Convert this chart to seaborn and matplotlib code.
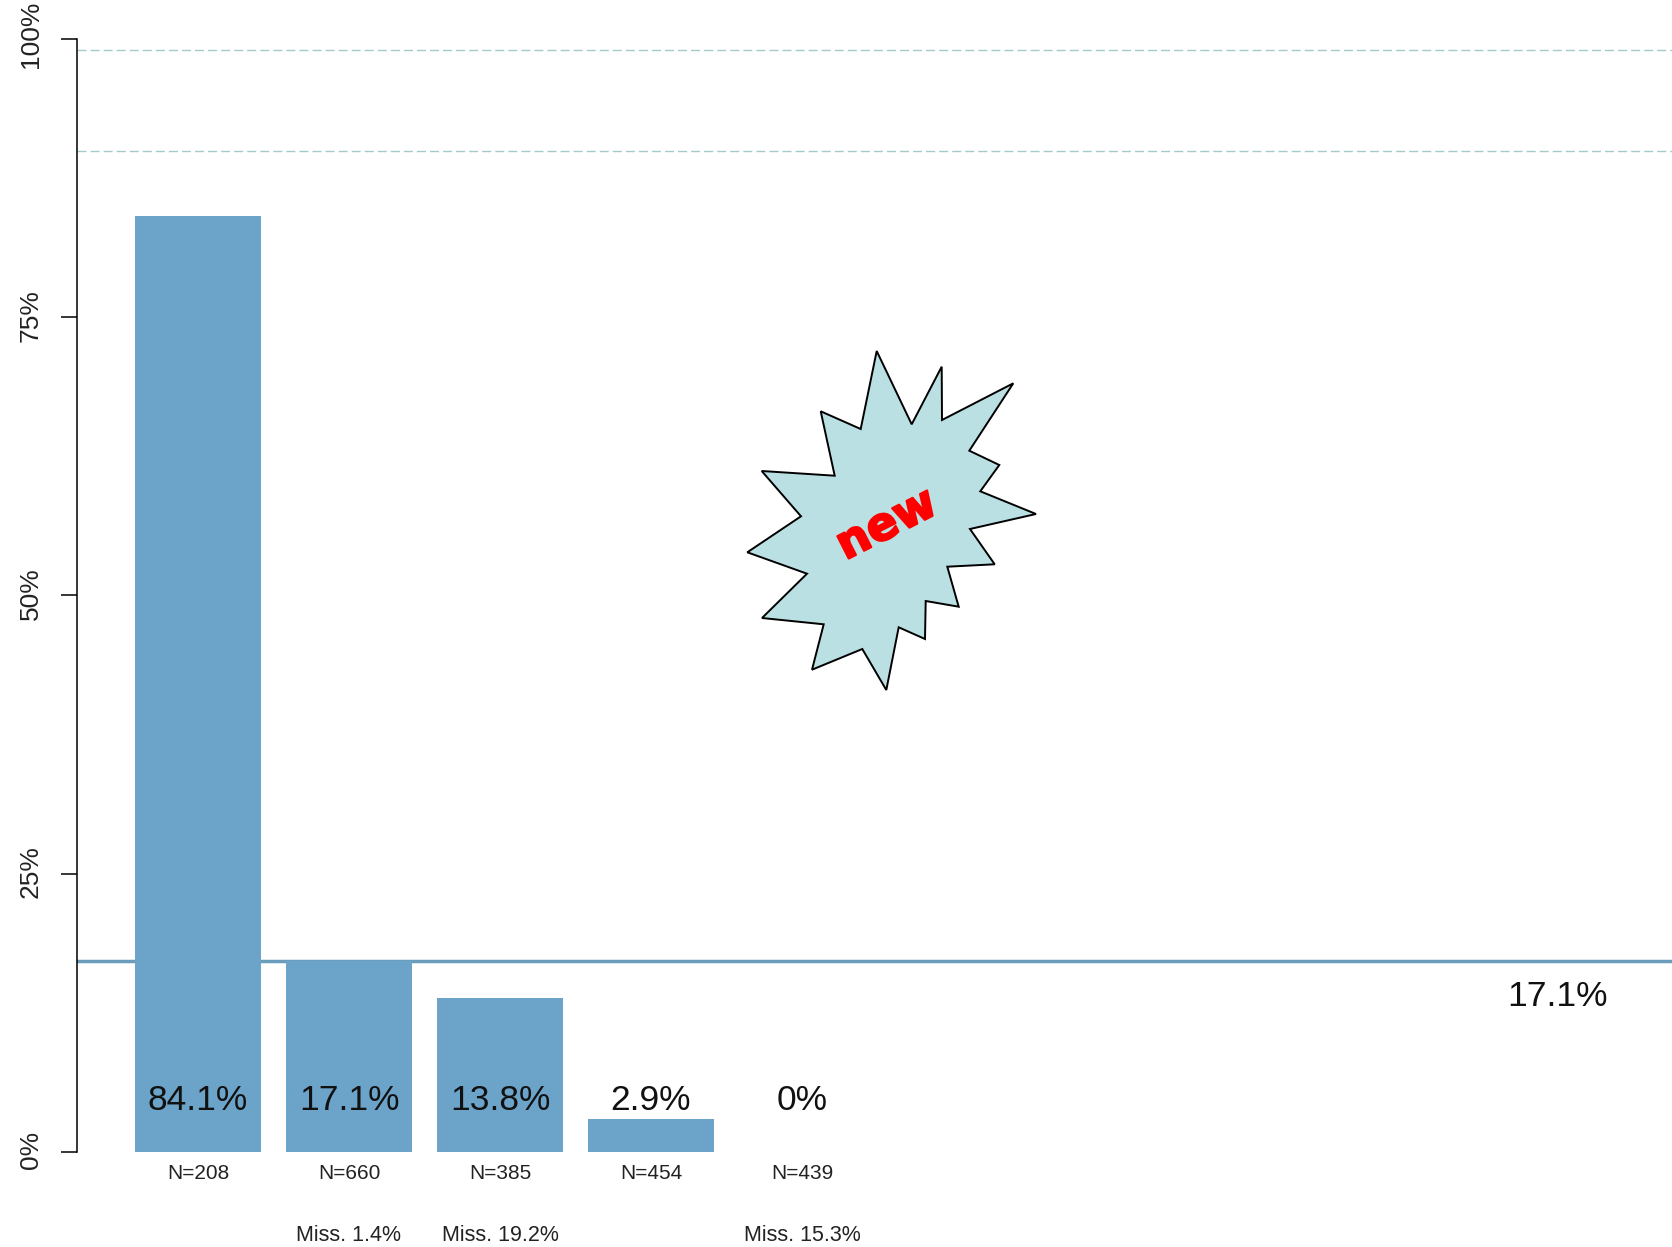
import matplotlib
matplotlib.use("Agg")
import matplotlib.pyplot as plt
import matplotlib.patheffects as pe
from matplotlib.patches import Polygon
from matplotlib.transforms import ScaledTranslation
import pandas as pd
import seaborn as sns

categories = ["A", "B", "C", "D", "E"]
values = [84.1, 17.1, 13.8, 2.9, 0]
value_labels = ["84.1%", "17.1%", "13.8%", "2.9%", "0%"]
n_labels = ["N=208", "N=660", "N=385", "N=454", "N=439"]
miss_labels = ["", "Miss. 1.4%", "Miss. 19.2%", "", "Miss. 15.3%"]
mean_value = 17.1
mean_label = "17.1%"
reference_lines = [99, 89.9]
y_ticks = [0, 25, 50, 75, 100]
y_tick_labels = ["0%", "25%", "50%", "75%", "100%"]

# outline of the decorative "new" burst, in pixels of the full figure
burst_x = [876.7, 911.7, 941.7, 942, 1013.3, 969.3, 999.3, 980.3, 1036, 970, 994.7, 947.3,
           958.7, 925.7, 925, 898.7, 886.3, 862.3, 812, 823.7, 762, 807, 747.3, 801,
           761.7, 834.7, 820.7, 860.7]
burst_y = [351, 424.3, 366.7, 420, 383.3, 450.7, 465, 491.3, 514, 529, 564.3, 566.7,
           606.7, 601, 639, 627.3, 690, 649, 669.7, 624.3, 618, 573.7, 552.3, 516.3,
           471, 475.7, 411.3, 429]

BAR = "#6CA4C9"
LINE = "#6A9DBB"
W, H = 1672, 1247
LEFT, TOP, BOTTOM = 77, 39, 1151.7
STEP, FIRST = 151, 198
TEXT_DX = 0.0

sns.set_theme(style="white")
plt.rcParams["font.family"] = ["Liberation Sans", "DejaVu Sans"]

fig = plt.figure(figsize=(W / 100, H / 100), dpi=100, facecolor="white")
ax = fig.add_axes([LEFT / W, 1 - BOTTOM / H, (W - LEFT) / W, (BOTTOM - TOP) / H])
ax.set_facecolor("white")

df = pd.DataFrame({"category": categories, "value": values})
ax.axhline(mean_value, color=LINE, lw=2.5, zorder=1)
for r in reference_lines:
    ax.axhline(r, color="#A5CACA", lw=1.0, dashes=(6.5, 2.9), zorder=1)
sns.barplot(data=df, x="category", y="value", color=BAR, saturation=1, width=0.828,
            linewidth=0, ax=ax, zorder=2)

ax.set_xlim((LEFT - FIRST) / STEP, (W - FIRST) / STEP)
ax.set_ylim(0, 100)
ax.set_xlabel("")
ax.set_ylabel("")
ax.set_xticks([])
ax.set_yticks(y_ticks)
ax.set_yticklabels(y_tick_labels, rotation=90, va="center", fontsize=19, color="#222222")
ax.tick_params(axis="y", left=True, length=11.5, width=1.1, color="black", pad=13)
for lab, txt in zip(ax.get_yticklabels(), y_tick_labels):
    up = 5 if txt == "100%" else 2
    lab.set_transform(lab.get_transform() + ScaledTranslation(0, up / 100, fig.dpi_scale_trans))
for s in ["top", "right", "bottom"]:
    ax.spines[s].set_visible(False)
ax.spines["left"].set_linewidth(1.1)
ax.spines["left"].set_color("black")

for i in range(len(categories)):
    ax.text(i + TEXT_DX, 4.6, value_labels[i], ha="center", va="center", fontsize=25.5,
            color="#111111", zorder=3)
    ax.text(i + TEXT_DX, -1.93, n_labels[i], ha="center", va="center", fontsize=15,
            color="#222222", clip_on=False)
    if miss_labels[i]:
        ax.text(i + TEXT_DX, -7.53, miss_labels[i], ha="center", va="center", fontsize=15.5,
                color="#222222", clip_on=False)

ax.text((1557 - FIRST) / STEP, mean_value - 3.14, mean_label, ha="center", va="center",
        fontsize=25.5, color="#111111")

pts = [(x / W, 1 - y / H) for x, y in zip(burst_x, burst_y)]
fig.add_artist(Polygon(pts, closed=True, transform=fig.transFigure, facecolor="#BAE0E3",
                       edgecolor="black", lw=1.4, joinstyle="miter", zorder=5))
fig.text(887 / W, 1 - 525 / H, "new", color="#FF0000", fontsize=33, fontweight="bold",
         family="DejaVu Sans", rotation=27, rotation_mode="anchor",
         ha="center", va="center", zorder=6,
         path_effects=[pe.withStroke(linewidth=1.6, foreground="#FF0000")])

fig.savefig("out.png", dpi=100, facecolor="white")
